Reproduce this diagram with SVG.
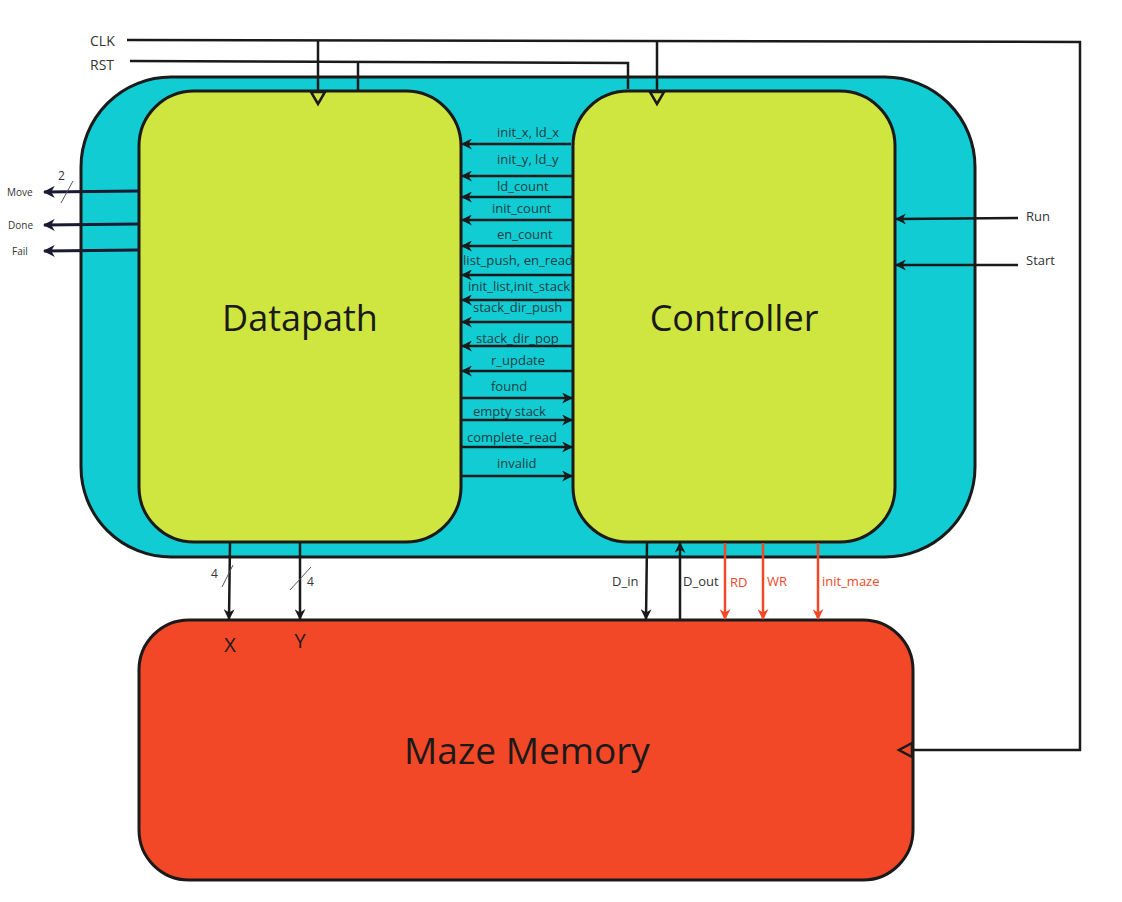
<svg xmlns="http://www.w3.org/2000/svg" width="1122" height="902" viewBox="0 0 1122 902">
<defs>
<style>
.blk{stroke:#1a1a1a;stroke-width:3}
.ln{stroke:#1a1a1a;stroke-width:2.5;fill:none}
.nv{stroke:#1a1a33;stroke-width:3;fill:none}
.rd{stroke:#f24827;stroke-width:2.5;fill:none}
.thin{stroke:#555;stroke-width:1;fill:none}
.sig{font-family:"Open Sans",sans-serif;font-size:13px;fill:#1f3d42}
.lbl{font-family:"Open Sans",sans-serif;font-size:13px;fill:#333}
.sm{font-family:"Open Sans",sans-serif;font-size:10px;fill:#333}
.big{font-family:"Open Sans",sans-serif;font-size:36px;fill:#1a1a1a;text-anchor:middle}
.rl{font-family:"Open Sans",sans-serif;font-size:13px;fill:#f24827}
</style>
<marker id="a" viewBox="0 0 10 10" refX="9" refY="5" markerWidth="11" markerHeight="11" markerUnits="userSpaceOnUse" orient="auto">
<path d="M0,0 L10,5 L0,10 L3,5 z" fill="#1a1a1a"/>
</marker>
<marker id="an" viewBox="0 0 10 10" refX="9" refY="5" markerWidth="12" markerHeight="12" markerUnits="userSpaceOnUse" orient="auto">
<path d="M0,0 L10,5 L0,10 L3,5 z" fill="#1a1a33"/>
</marker>
<marker id="ar" viewBox="0 0 10 10" refX="9" refY="5" markerWidth="11" markerHeight="11" markerUnits="userSpaceOnUse" orient="auto">
<path d="M0,0 L10,5 L0,10 L3,5 z" fill="#f24827"/>
</marker>
</defs>
<rect width="1122" height="902" fill="#ffffff"/>

<g id="system">
<rect x="81" y="77" width="894" height="480" rx="90" fill="#12ccd4" class="blk"/>
</g>
<g id="datapath">
<rect x="139" y="91" width="322" height="451" rx="55" fill="#cfe640" class="blk"/>
<text x="300" y="331" class="big">Datapath</text>
</g>
<g id="controller">
<rect x="573" y="91" width="322" height="451" rx="55" fill="#cfe640" class="blk"/>
<text x="734" y="331" class="big">Controller</text>
</g>
<g id="memory">
<rect x="139" y="620" width="774" height="260" rx="50" fill="#f24827" class="blk"/>
<text x="527" y="764" class="big" style="font-size:37px">Maze Memory</text>
<text x="230" y="652" text-anchor="middle" style="font-family:'Open Sans',sans-serif;font-size:20px;fill:#1a1a1a">X</text>
<text x="300" y="648" text-anchor="middle" style="font-family:'Open Sans',sans-serif;font-size:20px;fill:#1a1a1a">Y</text>
</g>

<g id="connectors">
<!-- CLK -->
<text x="90" y="46" style="font-family:'Open Sans',sans-serif;font-size:14px;fill:#333">CLK</text>
<polyline points="127,40 1080,42 1080,750 913,750" class="ln"/>
<line x1="318" y1="41" x2="318" y2="91" class="ln"/>
<line x1="657" y1="42" x2="657" y2="91" class="ln"/>
<polygon points="311,92 325,92 318,104" fill="none" class="ln"/>
<polygon points="650,92 664,92 657,104" fill="none" class="ln"/>
<polygon points="912,743 912,757 899,750" fill="none" class="ln"/>
<!-- RST -->
<text x="90" y="70" style="font-family:'Open Sans',sans-serif;font-size:14px;fill:#333">RST</text>
<polyline points="130,61 628,63 628,89" class="ln"/>
<line x1="358" y1="62" x2="358" y2="91" class="ln"/>

<!-- controller to datapath -->
<line x1="571" y1="144" x2="462" y2="144" class="ln" marker-end="url(#a)"/>
<line x1="573" y1="176" x2="462" y2="176" class="ln" marker-end="url(#a)"/>
<line x1="573" y1="197" x2="462" y2="197" class="ln" marker-end="url(#a)"/>
<line x1="573" y1="220" x2="462" y2="220" class="ln" marker-end="url(#a)"/>
<line x1="573" y1="246" x2="462" y2="246" class="ln" marker-end="url(#a)"/>
<line x1="573" y1="275" x2="462" y2="275" class="ln" marker-end="url(#a)"/>
<line x1="573" y1="300" x2="462" y2="300" class="ln" marker-end="url(#a)"/>
<line x1="573" y1="322" x2="462" y2="322" class="ln" marker-end="url(#a)"/>
<line x1="573" y1="346" x2="462" y2="346" class="ln" marker-end="url(#a)"/>
<line x1="573" y1="371" x2="462" y2="371" class="ln" marker-end="url(#a)"/>
<text x="497" y="137" class="sig">init_x, ld_x</text>
<text x="497" y="164" class="sig">init_y, ld_y</text>
<text x="497" y="191" class="sig">ld_count</text>
<text x="492" y="213" class="sig">init_count</text>
<text x="497" y="239" class="sig">en_count</text>
<text x="463" y="265" class="sig" textLength="110" lengthAdjust="spacingAndGlyphs">list_push, en_read</text>
<text x="468" y="291" class="sig" textLength="102" lengthAdjust="spacingAndGlyphs">init_list,init_stack</text>
<text x="473" y="312" class="sig">stack_dir_push</text>
<text x="476" y="343" class="sig">stack_dir_pop</text>
<text x="491" y="365" class="sig">r_update</text>
<!-- datapath to controller -->
<line x1="461" y1="398" x2="572" y2="398" class="ln" marker-end="url(#a)"/>
<line x1="461" y1="420" x2="572" y2="420" class="ln" marker-end="url(#a)"/>
<line x1="461" y1="447" x2="572" y2="447" class="ln" marker-end="url(#a)"/>
<line x1="461" y1="476" x2="572" y2="476" class="ln" marker-end="url(#a)"/>
<text x="491" y="391" class="sig">found</text>
<text x="473" y="416" class="sig">empty stack</text>
<text x="467" y="442" class="sig">complete_read</text>
<text x="497" y="468" class="sig">invalid</text>

<!-- outputs -->
<line x1="139" y1="191" x2="44" y2="192" class="nv" marker-end="url(#an)"/>
<line x1="139" y1="224" x2="44" y2="225" class="nv" marker-end="url(#an)"/>
<line x1="139" y1="250" x2="44" y2="251" class="nv" marker-end="url(#an)"/>
<text x="7" y="196" class="sm">Move</text>
<text x="8" y="229" class="sm">Done</text>
<text x="12" y="255" class="sm">Fail</text>
<text x="58" y="180" class="sm" style="font-size:12px">2</text>
<line x1="73" y1="181" x2="61" y2="203" class="thin"/>

<!-- Run / Start -->
<line x1="1018" y1="218" x2="896" y2="219" class="ln" marker-end="url(#a)"/>
<line x1="1018" y1="265" x2="896" y2="265" class="ln" marker-end="url(#a)"/>
<text x="1026" y="221" class="lbl">Run</text>
<text x="1026" y="265" class="lbl">Start</text>

<!-- X / Y -->
<line x1="230" y1="543" x2="229" y2="619" class="ln" marker-end="url(#a)"/>
<line x1="300" y1="543" x2="300" y2="619" class="ln" marker-end="url(#a)"/>
<line x1="233" y1="565" x2="222" y2="587" class="thin"/>
<line x1="311" y1="567" x2="290" y2="590" class="thin"/>
<text x="211" y="578" class="lbl" style="font-size:12px">4</text>
<text x="307" y="586" class="lbl" style="font-size:12px">4</text>

<!-- data -->
<line x1="647" y1="543" x2="646" y2="619" class="ln" marker-end="url(#a)"/>
<line x1="680" y1="620" x2="680" y2="543" class="ln" marker-end="url(#a)"/>
<text x="612" y="586" class="lbl">D_in</text>
<text x="683" y="586" class="lbl">D_out</text>
<line x1="725" y1="543" x2="725" y2="619" class="rd" marker-end="url(#ar)"/>
<line x1="763" y1="543" x2="763" y2="619" class="rd" marker-end="url(#ar)"/>
<line x1="818" y1="543" x2="818" y2="619" class="rd" marker-end="url(#ar)"/>
<text x="730" y="587" class="rl">RD</text>
<text x="767" y="586" class="rl">WR</text>
<text x="822" y="586" class="rl">init_maze</text>
</g>
</svg>
